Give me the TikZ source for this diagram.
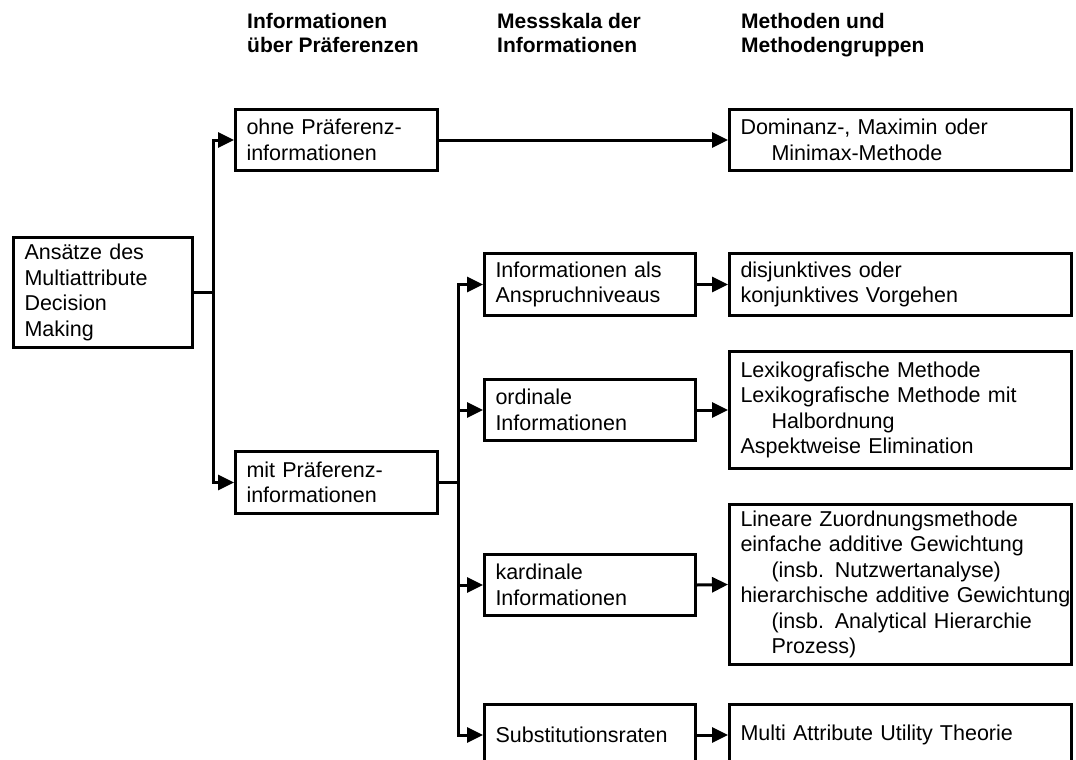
\documentclass[tikz,border=0pt]{standalone}
\usepackage{fontspec}
\setmainfont{Liberation Sans}
\usetikzlibrary{arrows.meta}
\begin{document}
\begin{tikzpicture}[x=1pt,y=-1pt,
  every node/.style={font=\fontsize{21.5}{25.5}\selectfont},
  box/.style={draw, line width=3pt, inner xsep=11pt, inner ysep=0pt, align=left},
  rootbox/.style={box, text width=157pt, minimum height=110pt},
  leftbox/.style={box, text width=180pt, minimum height=61.5pt},
  midbox/.style={box, text width=189pt, minimum height=61.5pt},
  rightbox/.style={box, text width=320pt, minimum height=61.5pt},
  head/.style={font=\bfseries\fontsize{21}{24.5}\selectfont, align=left, inner sep=0pt, anchor=base west},
  link/.style={line width=3pt},
  arr/.style={link, -{Triangle[length=16pt,width=15pt]}}]

% page frame
\useasboundingbox (0,0) rectangle (1076,760);
\fill[white] (0,0) rectangle (1076,760);
\clip (0,0) rectangle (1076,760);

% column headings (anchored at the baseline of their last line)
\node[head] (h1) at (247,52.5) {Informationen\\über Präferenzen};
\node[head] (h2) at (497,52.5) {Messskala der\\Informationen};
\node[head] (h3) at (741,52.5) {Methoden und\\Methodengruppen};

% root
\node[rootbox] (root) at (103,292.5) {Ansätze des\\Multiattribute\\Decision\\Making};

% level 1
\node[leftbox] (ohne) at (336.5,140) {ohne Präferenz-\\informationen};
\node[leftbox] (mit) at (336.5,482.5) {mit Präferenz-\\informationen};

% level 2
\node[midbox] (anspr) at (590,284.5) {Informationen als\\Anspruchniveaus};
\node[midbox] (ordi) at (590,410) {ordinale\\Informationen};
\node[midbox] (kard) at (590,585) {kardinale\\Informationen};
\node[midbox] (subst) at (590,735) {Substitutionsraten};

% methods
\node[rightbox] (dom) at (900.5,140) {Dominanz-, Maximin oder\\\hspace*{31pt}Minimax-Methode};
\node[rightbox] (disj) at (900.5,284.5) {disjunktives oder\\konjunktives Vorgehen};
\node[rightbox, minimum height=117pt] (lex) at (900.5,410) {Lexikografische Methode\\Lexikografische Methode mit\\\hspace*{31pt}Halbordnung\\Aspektweise Elimination};
\node[rightbox, minimum height=160pt] (lin) at (900.5,584.5) {Lineare Zuordnungsmethode\\einfache additive Gewichtung\\\hspace*{31pt}(insb. Nutzwertanalyse)\\\mbox{hierarchische additive Gewichtung}\\\hspace*{31pt}(insb. Analytical Hierarchie\\\hspace*{31pt}Prozess)};
\node[rightbox] (maut) at (900.5,735) {Multi Attribute Utility Theorie};

% connectors from the root
\coordinate (ja) at (213,292.5);
\draw[link] (root.east) -- (ja);
\draw[arr] (ja) |- (ohne.west);
\draw[arr] (ja) |- (mit.west);

% connectors from "mit Präferenzinformationen"
\coordinate (jb) at (458,482.5);
\draw[link] (mit.east) -- (jb);
\draw[arr] (jb) |- (anspr.west);
\draw[arr] (jb) |- (ordi.west);
\draw[arr] (jb) |- (kard.west);
\draw[arr] (jb) |- (subst.west);

% connectors to the methods
\draw[arr] (ohne.east) -- (dom.west);
\draw[arr] (anspr.east) -- (disj.west);
\draw[arr] (ordi.east) -- (lex.west);
\draw[arr] (kard.east) -- (lin.west);
\draw[arr] (subst.east) -- (maut.west);
\end{tikzpicture}
\end{document}
